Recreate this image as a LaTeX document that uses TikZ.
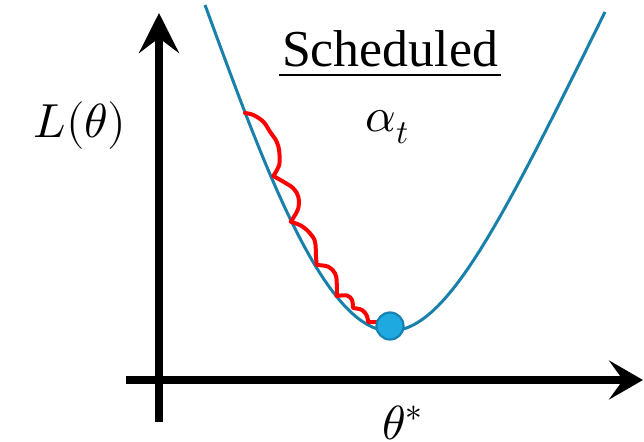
\documentclass[tikz,border=0pt]{standalone}
\usepackage{unicode-math}
\newfontfamily\tnr{Liberation Serif}
\usetikzlibrary{arrows.meta}
\definecolor{curveblue}{RGB}{24,128,170}
\definecolor{ballfill}{RGB}{30,170,225}
\definecolor{balledge}{RGB}{22,130,178}
\begin{document}
\begin{tikzpicture}[x=1bp,y=-1bp,
  axis/.style={line width=7.5bp},
  lossline/.style={curveblue, line width=3bp},
  pathline/.style={red, line width=4bp, line cap=round, line join=round},
  mathlbl/.style={inner sep=0pt, font=\fontsize{48}{48}\selectfont},
  ballnode/.style={circle, fill=ballfill, draw=balledge, line width=2.2bp, minimum size=27bp, inner sep=0pt}]
\useasboundingbox (0,0) rectangle (644,442);
% axes
\coordinate (vb) at (159,422);
\coordinate (vt) at (159,13);
\coordinate (hl) at (126,380);
\coordinate (hr) at (643,380);
\draw[axis, -{Stealth[length=40bp,width=40bp,inset=15bp]}] (vb) -- (vt);
\draw[axis, -{Stealth[length=34bp,width=39bp,inset=14bp]}] (hl) -- (hr);
% loss curve
\coordinate (cl) at (205,5);
\coordinate (cm) at (390,331);
\coordinate (cr) at (605,12);
\draw[lossline] (cl) .. controls (257,145.7) and (321,331) .. (cm)
  .. controls (447,331) and (501.3,221.7) .. (cr);
% red path
\draw[pathline] plot[smooth, tension=0.6] coordinates {
  (245,113) (253.3,115) (263.3,121.7) (270,131.7) (276.7,141.7) (279.3,152) (279.3,165) (276.7,170.5) (273.3,176)}
 -- plot[smooth, tension=0.6] coordinates {
  (273.3,176) (283.3,181.7) (293.3,188.3) (298.3,196.7) (298.3,208.3) (294,216.7) (290.7,221.7)}
 -- plot[smooth, tension=0.6] coordinates {
  (290.7,221.7) (301.7,226) (310,233.3) (315,241.7) (316,256.7) (316.7,265)}
 -- plot[smooth, tension=0.6] coordinates {
  (316.7,265) (328.3,266.7) (335,273.3) (336.7,281.7) (336.7,296)}
 -- plot[smooth, tension=0.6] coordinates {
  (336.7,296) (347,295.5) (352,300) (353,308)}
 -- plot[smooth, tension=0.6] coordinates {
  (353,308) (362,310) (367,316) (368,322)}
 -- (377,322);
% minimum ball
\node[ballnode] (ball) at (390,326) {};
% labels
\node[mathlbl, anchor=base] (ylab) at (80,138) {$L(\theta)$};
\node[mathlbl, anchor=base] (alpha) at (387,132) {$\alpha_t$};
\node[mathlbl, anchor=base] (xlab) at (403,439) {$\theta^*$};
\node[inner xsep=3bp, inner ysep=0pt, anchor=base, font=\tnr\fontsize{52}{52}\selectfont] (sched) at (390,67) {Scheduled};
\draw[line width=2bp] ([yshift=-8bp]sched.base west) -- ([yshift=-8bp]sched.base east);
\end{tikzpicture}
\end{document}
